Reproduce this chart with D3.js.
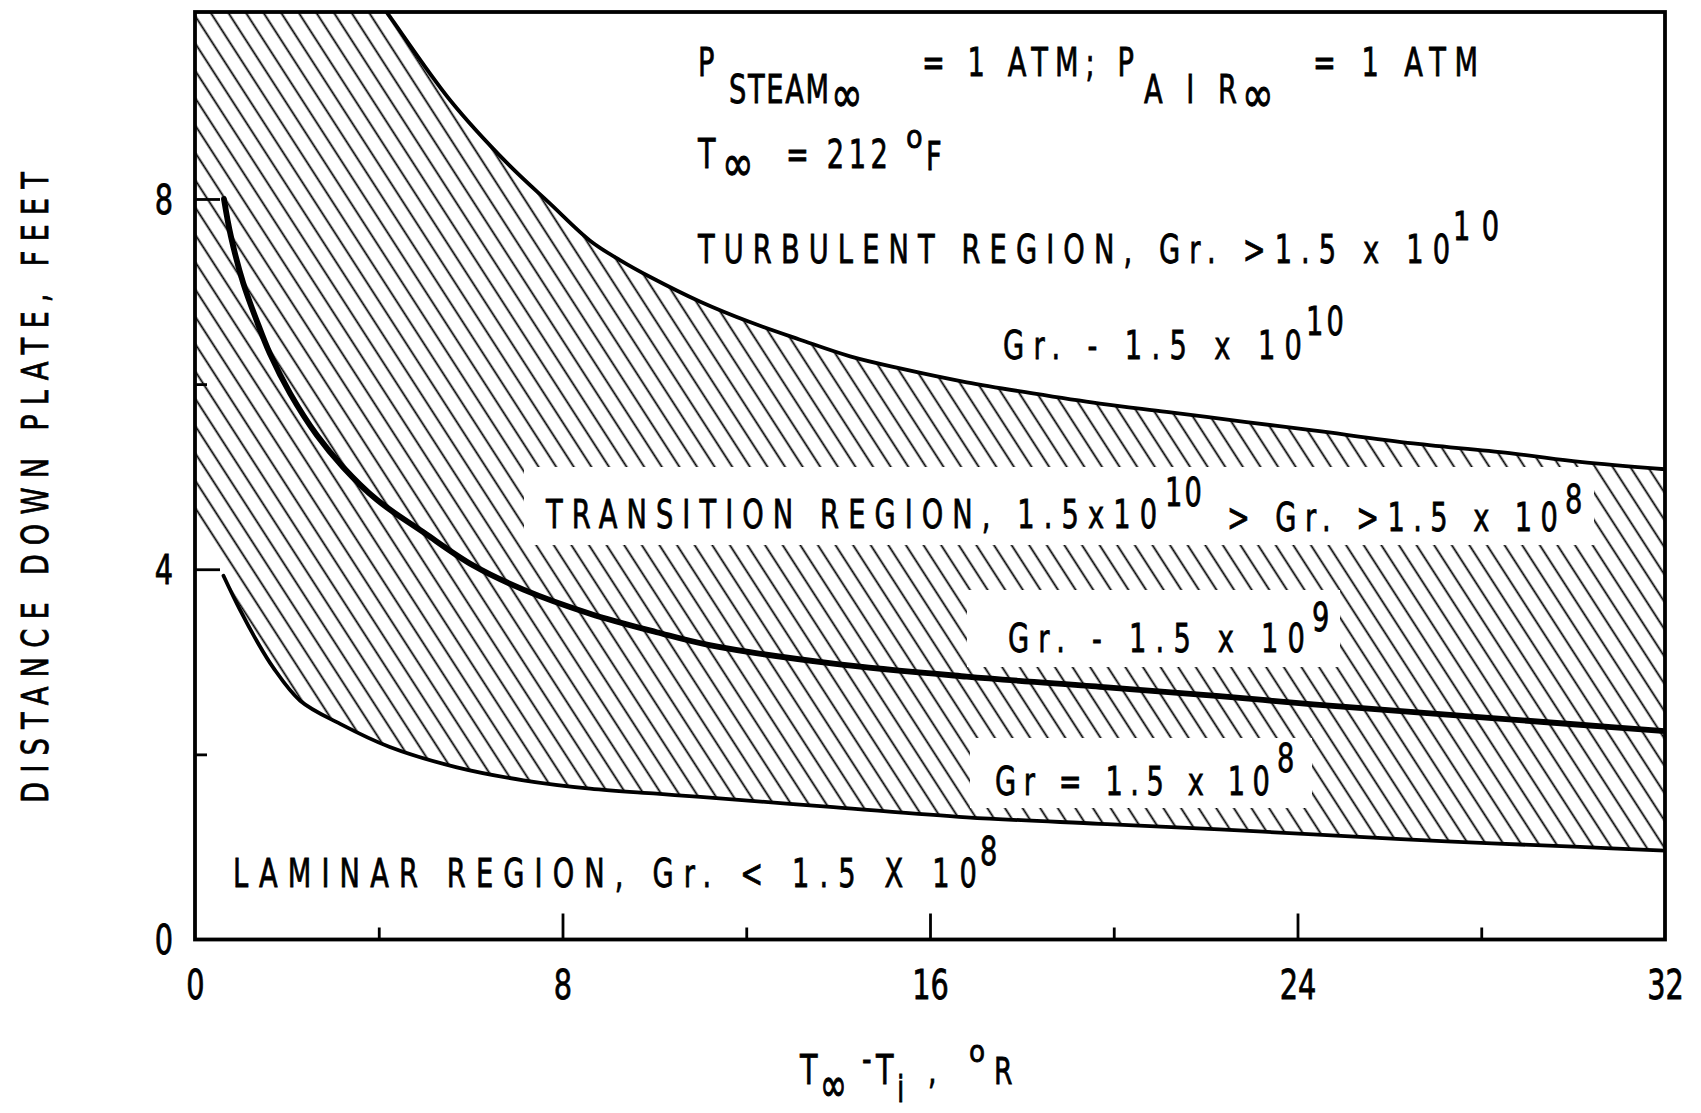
<!DOCTYPE html>
<html><head><meta charset="utf-8">
<script src="https://cdn.jsdelivr.net/npm/d3@7"></script>
<style>html,body{margin:0;padding:0;background:#fff;} svg{display:block;}</style>
</head><body>
<svg id="c" width="1701" height="1113"></svg>
<script>
// ---- data ----
// Gr = 1.5 x 10^10 boundary (turbulent / transition)
const upperX = [3.97, 4.17, 5.55, 6.79, 7.73, 8.6, 9.25, 9.9, 11.0, 12.08, 13.17, 14.26, 15.35, 16.8, 18.24, 19.7, 21.15, 22.89, 24.34, 26.52, 28.7, 30.15, 32];
const upperY = [10.15, 10.02, 9.07, 8.39, 7.95, 7.55, 7.34, 7.16, 6.89, 6.67, 6.48, 6.3, 6.17, 6.02, 5.9, 5.79, 5.7, 5.59, 5.5, 5.36, 5.25, 5.16, 5.08];
// Gr = 1.5 x 10^9
const midX = [0.63, 0.78, 1.05, 1.34, 1.63, 2.07, 2.65, 3.23, 3.96, 4.97, 6.06, 7.15, 8.6, 10.05, 11.2, 13.9, 16.8, 19.7, 22.3, 24.34, 27.25, 30.15, 32];
const midY = [8.0, 7.6, 7.09, 6.69, 6.33, 5.9, 5.45, 5.1, 4.75, 4.4, 4.04, 3.78, 3.52, 3.32, 3.18, 2.98, 2.84, 2.73, 2.63, 2.54, 2.43, 2.32, 2.25];
// Gr = 1.5 x 10^8 boundary (transition / laminar)
const lowerX = [0.62, 0.98, 1.34, 1.7, 2.29, 3.16, 4.24, 5.7, 7.15, 8.6, 10.05, 11.0, 13.9, 16.8, 19.7, 22.3, 24.34, 27.25, 30.15, 32];
const lowerY = [3.93, 3.56, 3.23, 2.94, 2.58, 2.33, 2.08, 1.86, 1.72, 1.63, 1.575, 1.54, 1.43, 1.32, 1.25, 1.19, 1.135, 1.06, 1.0, 0.96];
// left edge of the hatched band on the axis
const hatchAxisTop = 10.02, hatchAxisBottom = 4.65;

const xDomain = [0, 32];
const yDomain = [0, 10.02];
const xLabelTicks = [0, 8, 16, 24, 32];
const xMajorTicks = [8, 16, 24];
const xMinorTicks = [4, 12, 20, 28];
const yLabelTicks = [0, 4, 8];
const yMajorTicks = [4, 8];
const yMinorTicks = [2, 6];

// ---- layout ----
const L = 195, R = 1665, T = 12, B = 939.5;
const x = d3.scaleLinear(xDomain, [L, R]);
const y = d3.scaleLinear(yDomain, [B, T]);
const FONT = "DejaVu Sans, Liberation Sans, sans-serif";

const svg = d3.select("#c");
const defs = svg.append("defs");
defs.append("clipPath").attr("id", "plotclip")
  .append("rect").attr("x", L).attr("y", T).attr("width", R - L).attr("height", B - T);
const pat = defs.append("pattern").attr("id", "hatch")
  .attr("patternUnits", "userSpaceOnUse")
  .attr("width", 14.8).attr("height", 40)
  .attr("patternTransform", "rotate(-32.8)");
pat.append("line").attr("x1", 7.4).attr("x2", 7.4).attr("y1", -5).attr("y2", 45)
  .attr("stroke", "#000").attr("stroke-width", 1.8);

const zip = (xs, ys) => xs.map((v, i) => [v, ys[i]]);
const upper = zip(upperX, upperY), mid = zip(midX, midY), lower = zip(lowerX, lowerY);
const line = d3.line().x(d => x(d[0])).y(d => y(d[1])).curve(d3.curveCatmullRom.alpha(0.5));

const plot = svg.append("g").attr("clip-path", "url(#plotclip)");
// hatched transition band
const up = upper[upper.length - 1];
const dBand = `M${x(0)},${y(hatchAxisTop)}L${x(0)},${y(hatchAxisBottom)}` +
  line(lower).replace(/^M/, "L") +
  `L${x(up[0])},${y(up[1])}` +
  line(upper.slice().reverse()).replace(/^M/, "L") +
  `L${x(0)},${y(hatchAxisTop)}Z`;
plot.append("path").attr("d", dBand).attr("fill", "url(#hatch)").attr("stroke", "none");

// white knock-outs behind the labels inside the band
const boxes = [[524, 467, 1594, 545], [967, 590, 1340, 667], [970, 738, 1312, 808]];
plot.selectAll("rect.ko").data(boxes).join("rect").attr("class", "ko")
  .attr("x", d => d[0]).attr("y", d => d[1]).attr("width", d => d[2] - d[0]).attr("height", d => d[3] - d[1])
  .attr("fill", "#fff");

// curves
plot.append("path").attr("d", line(upper)).attr("fill", "none").attr("stroke", "#000").attr("stroke-width", 3.8);
plot.append("path").attr("d", line(mid)).attr("fill", "none").attr("stroke", "#000").attr("stroke-width", 5.8).attr("stroke-linecap", "round");
plot.append("path").attr("d", line(lower)).attr("fill", "none").attr("stroke", "#000").attr("stroke-width", 3.8).attr("stroke-linecap", "round");

// axes / ticks
function styleAxis(g) { g.select(".domain").remove(); g.selectAll("line").attr("stroke", "#000").attr("stroke-width", 2.8); }
svg.append("g").attr("transform", `translate(0,${B})`)
  .call(d3.axisBottom(x).tickValues(xMajorTicks).tickSize(-26).tickFormat("")).call(styleAxis);
svg.append("g").attr("transform", `translate(0,${B})`)
  .call(d3.axisBottom(x).tickValues(xMinorTicks).tickSize(-12).tickFormat("")).call(styleAxis);
svg.append("g").attr("transform", `translate(${L},0)`)
  .call(d3.axisLeft(y).tickValues(yMajorTicks).tickSize(-25).tickFormat("")).call(styleAxis);
svg.append("g").attr("transform", `translate(${L},0)`)
  .call(d3.axisLeft(y).tickValues(yMinorTicks).tickSize(-12).tickFormat("")).call(styleAxis);

const xl = svg.append("g").attr("transform", `translate(0,${B})`)
  .call(d3.axisBottom(x).tickValues(xLabelTicks).tickSize(0).tickFormat(d3.format("d")));
xl.select(".domain").remove();
xl.selectAll("text").attr("y", 0).attr("dy", 0).attr("transform", "translate(0,59) scale(0.72,1)")
  .attr("font-family", FONT).attr("font-size", 40).attr("fill", "#000")
  .attr("stroke", "#000").attr("stroke-width", 0.8);
const yl = svg.append("g").attr("transform", `translate(${L},0)`)
  .call(d3.axisLeft(y).tickValues(yLabelTicks).tickSize(0).tickFormat(d3.format("d")));
yl.select(".domain").remove();
yl.selectAll("text").attr("x", 0).attr("dy", "0.36em").attr("transform", "translate(-22,0) scale(0.72,1)")
  .attr("font-family", FONT).attr("font-size", 40).attr("fill", "#000").attr("text-anchor", "end")
  .attr("stroke", "#000").attr("stroke-width", 0.8);

// frame
svg.append("rect").attr("x", L).attr("y", T).attr("width", R - L).attr("height", B - T)
  .attr("fill", "none").attr("stroke", "#000").attr("stroke-width", 3.8);

// ---- text ----
const tg = svg.append("g").attr("font-family", FONT).attr("fill", "#000")
  .attr("stroke", "#000").attr("stroke-width", 0.8);
function put(str, px, base, o = {}) {
  const size = o.size || 39, sx = o.sx || 0.7, sy = o.sy || 1;
  const t = tg.append("text").attr("transform", `translate(${px},${base}) scale(${sx},${sy})`)
    .attr("font-size", size).text(str);
  if (o.w && str.length > 1) t.attr("textLength", o.w / sx).attr("lengthAdjust", "spacing");
  return t;
}
// conditions block
put("P", 698, 76);
put("STEAM", 729, 103, { w: 100 });
put("\u221E", 831, 112, { size: 38, sx: 1.0, sy: 1.35 });
put("= 1 ATM; P", 922, 76, { w: 212 });
put("AIR", 1144, 103, { w: 93 });
put("\u221E", 1242, 112, { size: 38, sx: 1.0, sy: 1.35 });
put("= 1 ATM", 1313, 76, { w: 165 });
put("T", 698, 168, { size: 41 });
put("\u221E", 722, 181, { size: 38, sx: 1.0, sy: 1.35 });
put("= 212", 786, 168, { w: 102 });
put("o", 906, 148, { size: 32, sx: 0.85 });
put("F", 926, 170);
// region labels
put("TURBULENT REGION, Gr. >1.5 x 10", 698, 263, { w: 752 });
put("10", 1453, 240, { w: 46 });
put("Gr. - 1.5 x 10", 1003, 359, { w: 299 });
put("10", 1306, 335, { w: 38 });
put("TRANSITION REGION, 1.5x10", 546, 528, { w: 611 });
put("10", 1165, 506, { w: 37 });
put("> Gr. >1.5 x 10", 1227, 531, { w: 331 });
put("8", 1565, 513);
put("Gr. - 1.5 x 10", 1008, 652, { w: 297 });
put("9", 1312, 631);
put("Gr = 1.5 x 10", 995, 795, { w: 275 });
put("8", 1277, 772);
put("LAMINAR REGION, Gr. < 1.5 X 10", 233, 887, { w: 744 });
put("8", 980, 865);
// axis titles
tg.append("text").attr("transform", "translate(48,803) rotate(-90) scale(0.72,1)")
  .attr("font-size", 38).attr("textLength", 631 / 0.72).attr("lengthAdjust", "spacing")
  .text("DISTANCE DOWN PLATE, FEET");
put("T", 800, 1084, { size: 41 });
put("\u221E", 820, 1101, { size: 34, sx: 0.95, sy: 1.4 });
put("-", 862, 1072, { size: 38 });
put("T", 876, 1084, { size: 41 });
put("i", 897, 1102, { size: 38 });
put(",", 928, 1084, { size: 38 });
put("o", 969, 1062, { size: 31, sx: 0.85 });
put("R", 994, 1084, { size: 38 });
</script>
</body></html>
